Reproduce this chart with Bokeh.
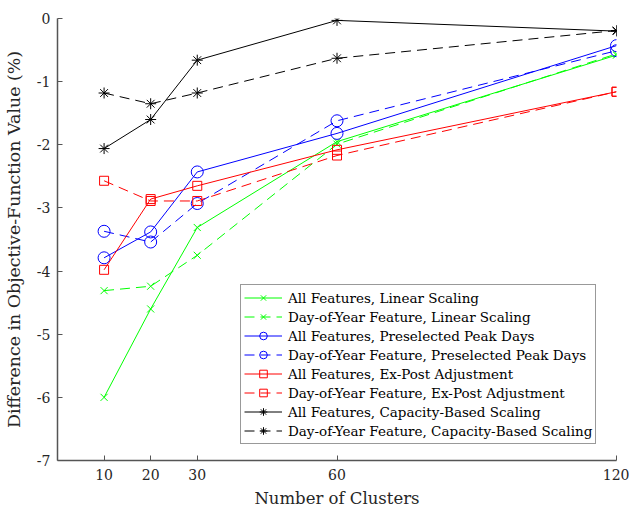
from bokeh.plotting import figure
from bokeh.models import FixedTicker, Legend, Range1d
from bokeh.embed import file_html
from bokeh.resources import INLINE

clusters = [10, 20, 30, 60, 120]
x_ticks = [10, 20, 30, 60, 120]
y_ticks = [0, -1, -2, -3, -4, -5, -6, -7]

all_linear = [-6.00, -4.60, -3.31, -1.95, -0.58]
doy_linear = [-4.31, -4.24, -3.75, -1.99, -0.56]
all_peak = [-3.79, -3.38, -2.43, -1.82, -0.43]
doy_peak = [-3.37, -3.54, -2.93, -1.62, -0.51]
all_expost = [-3.98, -2.86, -2.65, -2.08, -1.16]
doy_expost = [-2.57, -2.89, -2.89, -2.17, -1.16]
all_capacity = [-2.06, -1.60, -0.66, -0.03, -0.20]
doy_capacity = [-1.18, -1.35, -1.18, -0.63, -0.19]

series = [
    ("All Features, Linear Scaling", all_linear, "#00FF00", "solid", "x", 10),
    ("Day-of-Year Feature, Linear Scaling", doy_linear, "#00FF00", "10 6", "x", 10),
    ("All Features, Preselected Peak Days", all_peak, "#0000FF", "solid", "circle", 12),
    ("Day-of-Year Feature, Preselected Peak Days", doy_peak, "#0000FF", "10 6", "circle", 12),
    ("All Features, Ex-Post Adjustment", all_expost, "#FF0000", "solid", "square", 9),
    ("Day-of-Year Feature, Ex-Post Adjustment", doy_expost, "#FF0000", "10 6", "square", 9),
    ("All Features, Capacity-Based Scaling", all_capacity, "#000000", "solid", "asterisk", 11),
    ("Day-of-Year Feature, Capacity-Based Scaling", doy_capacity, "#000000", "10 6", "asterisk", 11),
]

FONT = "DejaVu Serif"
TXT = "#262626"

p = figure(width=629, height=510, output_backend="svg", toolbar_location=None,
           x_range=Range1d(0, 120), y_range=Range1d(-7, 0),
           min_border_left=57, min_border_right=13, min_border_top=18,
           min_border_bottom=49, background_fill_color="white",
           border_fill_color="white")
p.outline_line_color = None
p.xgrid.visible = False
p.ygrid.visible = False

items = []
for label, vals, color, dash, marker, size in series:
    r1 = p.line(clusters, vals, line_color=color, line_width=1, line_dash=dash)
    r2 = p.scatter(clusters, vals, marker=marker, size=size, line_color=color,
                   fill_color=None, line_width=1)
    items.append((label, [r1, r2]))

legend = Legend(items=items, location=(183, 16), orientation="vertical")
legend.label_text_font = FONT
legend.label_text_font_size = "13.5px"
legend.label_text_color = "#000000"
legend.glyph_width = 38
legend.glyph_height = 19
legend.label_height = 19
legend.label_standoff = 6
legend.spacing = 0
legend.padding = 3
legend.margin = 0
legend.border_line_color = "#333333"
legend.border_line_width = 1
legend.background_fill_color = "white"
legend.background_fill_alpha = 1
p.add_layout(legend, "center")

for ax in (p.xaxis, p.yaxis):
    ax.axis_line_color = "#555555"
    ax.axis_line_width = 1.5
    ax.major_tick_line_color = "#555555"
    ax.major_tick_in = 5
    ax.major_tick_out = 0
    ax.minor_tick_line_color = None
    ax.major_label_text_font = FONT
    ax.major_label_text_font_size = "14px"
    ax.major_label_text_color = TXT
    ax.axis_label_text_font = FONT
    ax.axis_label_text_font_style = "normal"
    ax.axis_label_text_color = TXT

p.xaxis.axis_label_text_font_size = "16.5px"
p.yaxis.axis_label_text_font_size = "17.4px"
p.xaxis.ticker = FixedTicker(ticks=x_ticks)
p.yaxis.ticker = FixedTicker(ticks=y_ticks)
p.yaxis.major_label_overrides = {t: str(t) for t in y_ticks}
p.xaxis.major_label_overrides = {t: str(t) for t in x_ticks}
p.xaxis.axis_label = "Number of Clusters"
p.yaxis.axis_label = "Difference in Objective-Function Value (%)"
p.xaxis.major_label_standoff = 8
p.yaxis.major_label_standoff = 7
p.xaxis.axis_label_standoff = 6
p.yaxis.axis_label_standoff = 10

open("out.html", "w").write(file_html(p, INLINE))
